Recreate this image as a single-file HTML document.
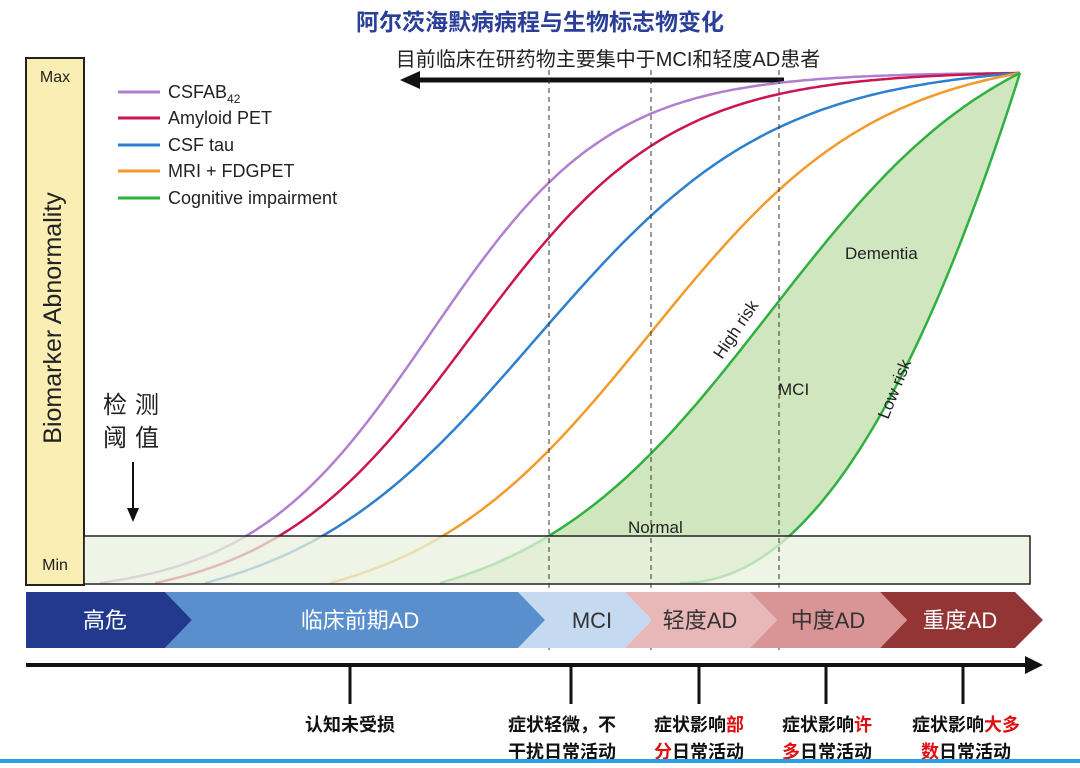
<!DOCTYPE html>
<html><head><meta charset="utf-8"><style>
html,body{margin:0;padding:0;background:#fff;}
svg text{font-family:"Liberation Sans","Noto Sans CJK SC",sans-serif;}
</style></head><body>
<svg id="s" width="1080" height="763" viewBox="0 0 1080 763" xmlns="http://www.w3.org/2000/svg">
<text x="540" y="30" text-anchor="middle" font-size="23" font-weight="bold" fill="#2b3f99">阿尔茨海默病病程与生物标志物变化</text>
<text x="608" y="66" text-anchor="middle" font-size="20" fill="#222">目前临床在研药物主要集中于MCI和轻度AD患者</text>
<line x1="415" y1="80" x2="784" y2="80" stroke="#111" stroke-width="5"/>
<polygon points="400,80 420,71 420,89" fill="#111"/>
<rect x="26" y="58" width="58" height="527" fill="#fbeeb5" stroke="#222" stroke-width="2"/>
<text x="55" y="82" text-anchor="middle" font-size="16" fill="#222">Max</text>
<text x="55" y="570" text-anchor="middle" font-size="16" fill="#222">Min</text>
<text transform="translate(61,318) rotate(-90)" text-anchor="middle" font-size="25" fill="#222">Biomarker Abnormality</text>
<g id="curves"></g>
<rect x="84" y="536" width="946" height="48" fill="#eaf1dd" fill-opacity="0.75" stroke="#222" stroke-width="1.5"/>
<line x1="549" y1="70" x2="549" y2="650" stroke="#333" stroke-dasharray="5,4" stroke-width="1"/>
<line x1="651" y1="70" x2="651" y2="650" stroke="#333" stroke-dasharray="5,4" stroke-width="1"/>
<line x1="779" y1="70" x2="779" y2="650" stroke="#333" stroke-dasharray="5,4" stroke-width="1"/>
<g font-size="18" fill="#222">
<line x1="118" y1="92" x2="160" y2="92" stroke="#b07fcf" stroke-width="3"/><text x="168" y="98">CSFAB<tspan font-size="12" dy="5">42</tspan></text>
<line x1="118" y1="118" x2="160" y2="118" stroke="#cc1450" stroke-width="3"/><text x="168" y="124">Amyloid PET</text>
<line x1="118" y1="145" x2="160" y2="145" stroke="#2f7fcf" stroke-width="3"/><text x="168" y="151">CSF tau</text>
<line x1="118" y1="171" x2="160" y2="171" stroke="#f39a2a" stroke-width="3"/><text x="168" y="177">MRI + FDGPET</text>
<line x1="118" y1="198" x2="160" y2="198" stroke="#2fb040" stroke-width="3"/><text x="168" y="204">Cognitive impairment</text>
</g>
<text x="103" y="413" font-size="24" fill="#222" letter-spacing="8">检测</text>
<text x="103" y="446" font-size="24" fill="#222" letter-spacing="8">阈值</text>
<line x1="133" y1="462" x2="133" y2="510" stroke="#111" stroke-width="2"/>
<polygon points="127,508 139,508 133,522" fill="#111"/>
<text x="845" y="259" font-size="17" fill="#222">Dementia</text>
<text transform="translate(722,360) rotate(-56)" font-size="17" fill="#222">High risk</text>
<text x="778" y="395" font-size="17" fill="#222">MCI</text>
<text transform="translate(888,420) rotate(-68)" font-size="17" fill="#222">Low risk</text>
<text x="628" y="533" font-size="17" fill="#222">Normal</text>
<g font-size="22">
<polygon points="880,592 1015,592 1043,620 1015,648 880,648 907,620" fill="#943535"/>
<polygon points="750,592 880,592 907,620 880,648 750,648 777,620" fill="#d99595"/>
<polygon points="625,592 750,592 777,620 750,648 625,648 652,620" fill="#e8b7b7"/>
<polygon points="518,592 625,592 652,620 625,648 518,648 545,620" fill="#c5daf0"/>
<polygon points="165,592 518,592 545,620 518,648 165,648 192,620" fill="#5a8fcd"/>
<polygon points="26,592 165,592 192,620 165,648 26,648" fill="#22398d"/>
<text x="105" y="628" text-anchor="middle" fill="#fff">高危</text>
<text x="360" y="628" text-anchor="middle" fill="#fff">临床前期AD</text>
<text x="592" y="628" text-anchor="middle" fill="#333">MCI</text>
<text x="700" y="628" text-anchor="middle" fill="#333">轻度AD</text>
<text x="828" y="628" text-anchor="middle" fill="#333">中度AD</text>
<text x="960" y="628" text-anchor="middle" fill="#fff">重度AD</text>
</g>
<line x1="26" y1="665" x2="1028" y2="665" stroke="#111" stroke-width="4"/>
<polygon points="1043,665 1025,656 1025,674" fill="#111"/>
<g stroke="#111" stroke-width="3">
<line x1="350" y1="665" x2="350" y2="704"/><line x1="571" y1="665" x2="571" y2="704"/>
<line x1="699" y1="665" x2="699" y2="704"/><line x1="826" y1="665" x2="826" y2="704"/>
<line x1="963" y1="665" x2="963" y2="704"/>
</g>
<g font-size="18" font-weight="bold" fill="#111" text-anchor="middle">
<text x="350" y="731">认知未受损</text>
<text x="562" y="731">症状轻微，不</text><text x="562" y="758">干扰日常活动</text>
<text x="699" y="731">症状影响<tspan fill="#e01010">部</tspan></text><text x="699" y="758"><tspan fill="#e01010">分</tspan>日常活动</text>
<text x="827" y="731">症状影响<tspan fill="#e01010">许</tspan></text><text x="827" y="758"><tspan fill="#e01010">多</tspan>日常活动</text>
<text x="966" y="731">症状影响<tspan fill="#e01010">大多</tspan></text><text x="966" y="758"><tspan fill="#e01010">数</tspan>日常活动</text>
</g>
<rect x="0" y="759" width="1080" height="4" fill="#2aa0e0"/>
</svg>
<script>
function sig(x,m,w){return 1/(1+Math.exp(-(x-m)/w));}
function logi(x0,m,w){return function(x){var a=sig(x0,m,w),b=sig(1020,m,w);return (sig(x,m,w)-a)/(b-a);};}
function pts(x0,F){var p=[];for(var x=x0;x<=1020;x+=4){p.push([x,583-510*F(x)]);}p.push([1020,73]);return p;}
function d(p){return "M"+p.map(function(q){return q[0].toFixed(1)+","+q[1].toFixed(1)}).join(" L");}
var C={
p:pts(100,logi(100,430,90)),
r:pts(155,logi(155,470,100)),
b:pts(205,logi(205,535,120)),
o:pts(330,logi(330,650,115)),
gh:pts(440,logi(440,770,120)),
gl:pts(680,function(x){return Math.pow((x-680)/340,2.1);})};
var col={p:"#b07fcf",r:"#cc1450",b:"#2f7fcf",o:"#f39a2a",gh:"#2fb040",gl:"#2fb040"};
var g=document.getElementById("curves"),h="";
var rev=C.gl.slice().reverse();
h+='<path d="'+d(C.gh.concat(rev))+' Z" fill="#cfe6bf" stroke="none"/>';
for(var k in C){h+='<path d="'+d(C[k])+'" fill="none" stroke="'+col[k]+'" stroke-width="2.5"/>';}
g.innerHTML=h;
</script>
</body></html>
